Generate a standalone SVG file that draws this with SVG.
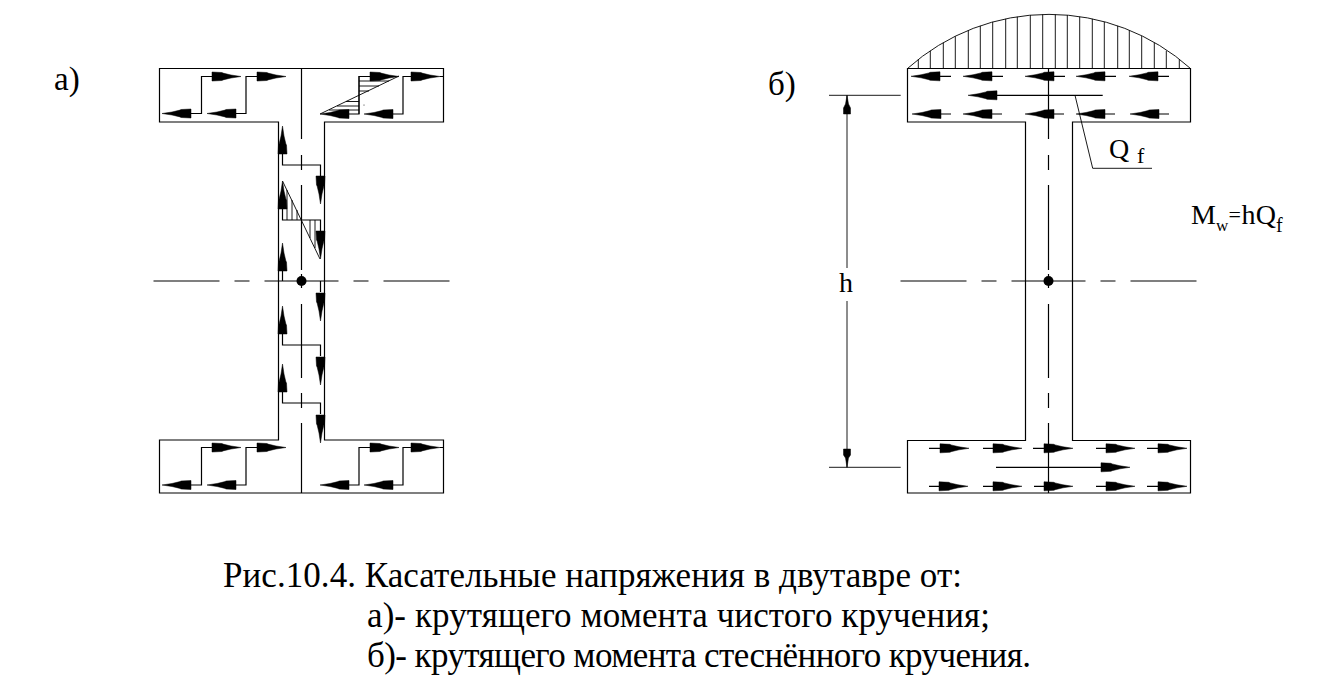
<svg xmlns="http://www.w3.org/2000/svg" width="1338" height="690" viewBox="0 0 1338 690">
<style>
.l{fill:none;stroke:#000;stroke-width:1.2}
.t{stroke:#000;stroke-width:.9;fill:none}
.a{fill:#000;stroke:#000;stroke-width:.5}
text{font-family:"Liberation Serif","Times New Roman",serif;fill:#000}
.cap{font-size:35px}
</style>
<defs>
<polygon id="al" class="a" points="0,0 10,-1.5 18,-3.4 19,-4 29,-4.500 29,4.500 19,4 18,3.400 10,1.500"/>
<polygon id="ar" class="a" points="0,0 -10,-1.500 -18,-3.400 -19,-4 -29,-4.500 -29,4.500 -19,4 -18,3.400 -10,1.500"/>
<polygon id="au" class="a" points="0,0 -1.500,10 -3.400,18 -4,19 -4.500,28 4.500,28 4,19 3.400,18 1.500,10"/>
<polygon id="ad" class="a" points="0,0 -1.500,-10 -3.400,-18 -4,-19 -4.500,-28 4.500,-28 4,-19 3.400,-18 1.500,-10"/>
<path id="cv" class="l" d="M0 68V139M0 155V170M0 185V270M0 274V288M0 304V378M0 393V408M0 423V493"/>
<path id="ax" class="l" d="M-148 281H-82M-67 281H-52M-37 281H37M52 281H67M82 281H148"/>
</defs>
<rect width="1338" height="690" fill="#fff"/>

<g id="section-a">
<path class="l" d="M159.5 68.5H443.5V122H324.5V440H443.5V493H159.5V440H278.5V122H159.5Z"/>
<use href="#cv" x="301.5"/>
<use href="#ax" x="301.5"/>
<circle cx="301.5" cy="281" r="5"/>
</g>

<g id="section-b">
<path class="l" d="M907.5 68.5H1190.5V122H1072.5V440.500H1190.5V493H907.5V440.500H1025.5V122H907.5Z"/>
<use href="#cv" x="1048.500"/>
<use href="#ax" x="1048.500"/>
<circle cx="1048.500" cy="281" r="5"/>
<path class="t" d="M907.5 68.5A212 212 0 0 1 1190.5 68.5"/>
<path class="t" d="M918.300 68.500V59.400M930.300 68.500V50.700M943.300 68.500V42.600M955.300 68.500V36.200M968.300 68.500V30.300M980.300 68.500V25.800M992.700 68.500V21.900M1005.700 68.500V18.800M1017.300 68.500V16.700M1030.300 68.500V15.100M1042.700 68.500V14.400M1055.300 68.500V14.400M1067.300 68.500V15.100M1079.700 68.500V16.700M1092.300 68.500V18.800M1104.300 68.500V21.900M1117.700 68.500V25.800M1129.300 68.500V30.300M1141.700 68.500V36M1154.300 68.500V42.600M1166.300 68.500V50.700M1179.300 68.500V59.400"/>
</g>

<g id="connectors">
<path class="l" d="M191 113.500H201.500V76.500H212M236 113.500H246V76.500H257M349 114H359V76.500H370M393 114H403V76.500H414M440 76.500H443.500"/>
<use href="#al" x="162" y="113.500"/><use href="#al" x="207" y="113.500"/><use href="#al" x="320" y="114"/><use href="#al" x="364" y="114"/>
<use href="#ar" x="241" y="76.500"/><use href="#ar" x="286" y="76.500"/><use href="#ar" x="399" y="76.500"/><use href="#ar" x="440" y="76.500"/>
<path class="t" d="M320 114L399 76M359 76V114M359 81H389M359 86H379M359 91H369M359 101.500H346M359 106H337M359 110H329"/>
<path class="t" d="M282.500 181L320 259M287 190V220M292 200V220M297 210V220M310 220V238M315 220V248"/>
<circle cx="364" cy="105" r=".5"/>
<path class="l" d="M282.500 153V165H320.500V176M282.500 208V220H320.500V231M282.500 271V281M320.500 281V292M282.500 334V345H320.500V356M282.500 392V403H320.500V414"/>
<use href="#au" x="282.500" y="126"/><use href="#au" x="282.500" y="181"/><use href="#au" x="282.500" y="243"/><use href="#au" x="282.500" y="306"/><use href="#au" x="282.500" y="364"/>
<use href="#ad" x="320.500" y="204"/><use href="#ad" x="320.500" y="259"/><use href="#ad" x="320.500" y="321"/><use href="#ad" x="320.500" y="385"/><use href="#ad" x="320.500" y="443"/>
<path class="l" d="M191 485H201.500V447.500H212M236 485H246V447.500H257M349 485H359V447.500H370M393 485H403V447.500H414M440 447.500H443.500"/>
<use href="#al" x="162" y="485"/><use href="#al" x="207" y="485"/><use href="#al" x="320" y="485"/><use href="#al" x="364" y="485"/>
<use href="#ar" x="241" y="447.500"/><use href="#ar" x="286" y="447.500"/><use href="#ar" x="399" y="447.500"/><use href="#ar" x="440" y="447.500"/>
<path class="l" d="M940 76.300H951M992 76.300H1003M1054 76.300H1065M1105 76.300H1116M1158 76.300H1169M941 114H951M992 114H1002M1054 114H1064M1105 114H1115M1159 114H1169M996 95.300H1102.700"/>
<use href="#al" x="911" y="76.300"/><use href="#al" x="963" y="76.300"/><use href="#al" x="1025" y="76.300"/><use href="#al" x="1076" y="76.300"/><use href="#al" x="1129" y="76.300"/>
<use href="#al" x="912" y="114"/><use href="#al" x="963" y="114"/><use href="#al" x="1025" y="114"/><use href="#al" x="1076" y="114"/><use href="#al" x="1130" y="114"/>
<use href="#al" x="968" y="95.300"/>
<path class="t" d="M1075 95.300L1092.700 168.300H1152"/>
<path class="l" d="M929 448.300H940M983 448.300H994M1033 448.300H1044M1096 448.300H1107M1147 448.300H1158M929 486.300H940M983 486.300H994M1034 486.300H1044M1096 486.300H1107M1147 486.300H1158M996 467.300H1102"/>
<use href="#ar" x="969" y="448.300"/><use href="#ar" x="1022" y="448.300"/><use href="#ar" x="1073" y="448.300"/><use href="#ar" x="1135" y="448.300"/><use href="#ar" x="1187" y="448.300"/>
<use href="#ar" x="968" y="486.300"/><use href="#ar" x="1022" y="486.300"/><use href="#ar" x="1073" y="486.300"/><use href="#ar" x="1135" y="486.300"/><use href="#ar" x="1187" y="486.300"/>
<use href="#ar" x="1130" y="467.300"/>
<path class="t" d="M829 95.300H900.700M829 467.300H900.700M847 95.300V268M847 301V467.300"/>
<polygon class="a" points="847,95.300 845.500,104 843.500,108 843.500,114 850.500,114 850.500,108 848.500,104"/>
<polygon class="a" points="847,467.300 845.500,458 843.500,455 843.500,449 850.500,449 850.500,455 848.500,458"/>
</g>

<g id="labels">
<text x="54" y="90" font-size="33">а)</text>
<text x="768" y="95" font-size="33">б)</text>
<text x="839" y="292" font-size="28">h</text>
<text x="1109" y="158" font-size="28">Q</text>
<text x="1137" y="163" font-size="22">f</text>
<text font-size="28"><tspan x="1191" y="224">M</tspan><tspan x="1216" y="231" font-size="17">w</tspan><tspan x="1228.500" y="222" font-size="22">=</tspan><tspan x="1241.500" y="224">h</tspan><tspan x="1255.700" y="224">Q</tspan><tspan x="1276" y="232" font-size="20">f</tspan></text>
<text class="cap" x="223" y="587" textLength="739" lengthAdjust="spacing">Рис.10.4. Касательные напряжения в двутавре от:</text>
<text class="cap" x="367" y="627" textLength="623" lengthAdjust="spacing">а)- крутящего момента чистого кручения;</text>
<text class="cap" x="367" y="667" textLength="664" lengthAdjust="spacing">б)- крутящего момента стеснённого кручения.</text>
</g>
</svg>
